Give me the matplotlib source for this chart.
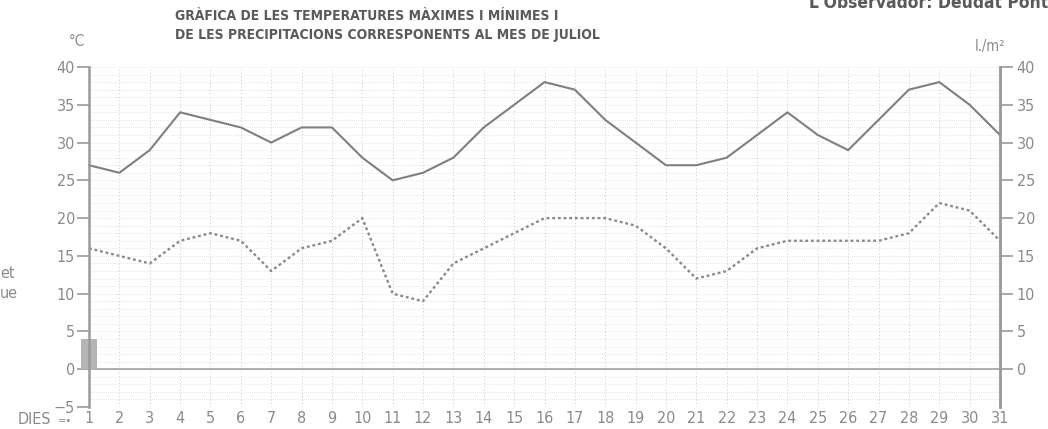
import matplotlib
matplotlib.use("Agg")
import matplotlib.pyplot as plt
from matplotlib import font_manager as fm
import numpy as np

days = list(range(1, 32))
t_max = [27, 26, 29, 34, 33, 32, 30, 32, 32, 28, 25, 26, 28, 32, 35, 38, 37, 33, 30, 27,
         27, 28, 31, 34, 31, 29, 33, 37, 38, 35, 31]
t_min = [16, 15, 14, 17, 18, 17, 13, 16, 17, 20, 10, 9, 14, 16, 18, 20, 20, 20, 19, 16,
         12, 13, 16, 17, 17, 17, 17, 18, 22, 21, 17]
precip_days = [1]
precip_vals = [4]
left_ticks = [-5, 0, 5, 10, 15, 20, 25, 30, 35, 40]
right_ticks = [0, 5, 10, 15, 20, 25, 30, 35, 40]

plt.rcParams['font.family'] = ['DejaVu Sans']
plt.rcParams['font.stretch'] = 'condensed'
print([ (f.name, f.stretch, f.weight) for f in fm.fontManager.ttflist if 'DejaVu Sans' == f.name])

W, H = 1048, 429
fig = plt.figure(figsize=(W / 100, H / 100), dpi=100)
L, R, T, B = 89, 1000, 67, 407
ax = fig.add_axes([L / W, 1 - B / H, (R - L) / W, (B - T) / H])
ax.set_xlim(1, 31)
ax.set_ylim(-5, 40)

gray = "#8a8a8a"
ax.set_facecolor("white")
for y in range(-5, 41):
    ax.axhline(y, color="#dedede", lw=0.6, ls=(0, (1, 1.5)), zorder=0)
for d in days:
    ax.axvline(d, color="#c8c8c8", lw=0.7, ls=(0, (1, 2.5)), zorder=0)
ax.axhline(0, color="#a8a8a8", lw=1.3, zorder=1)

ax.bar(precip_days, precip_vals, width=0.5, color="#b5b5b5", zorder=2, clip_on=False)
ax.plot(days, t_max, color="#7f7f7f", lw=1.5, zorder=3, clip_on=False)
ax.plot(days, t_min, color="#8a8a8a", lw=1.7, ls=(0, (1.2, 1.2)), zorder=3, clip_on=False)

for s in ["top", "bottom"]:
    ax.spines[s].set_visible(False)
for s in ["left", "right"]:
    ax.spines[s].set_color("#9a9a9a")
    ax.spines[s].set_linewidth(1.8)
    ax.spines[s].set_zorder(4)

ax.set_yticks(left_ticks)
ax.set_yticklabels(["\u22125" if v < 0 else str(v) for v in left_ticks])
ax.tick_params(axis="y", direction="out", length=9, width=1.2, color="#9a9a9a",
               labelcolor=gray, labelsize=11.5, pad=1)
ax.set_xticks(days)
ax.tick_params(axis="x", length=0, labelcolor=gray, labelsize=11.5, pad=3)

ax2 = ax.twinx()
ax2.set_ylim(-5, 40)
ax2.set_yticks(right_ticks)
for s in ["top", "bottom", "left"]:
    ax2.spines[s].set_visible(False)
ax2.spines["right"].set_color("#9a9a9a")
ax2.spines["right"].set_linewidth(1.8)
ax2.tick_params(axis="y", direction="out", length=9, width=1.2, color="#9a9a9a",
                labelcolor=gray, labelsize=11.5, pad=3)

def ftext(x, y, s, **kw):
    fig.text(x / W, 1 - y / H, s, **kw)

tc = "#5a5a5a"
ftext(175, 16, "GRÀFICA DE LES TEMPERATURES MÀXIMES I MÍNIMES I", fontsize=10,
      fontweight="bold", color=tc, va="center", ha="left")
ftext(175, 35, "DE LES PRECIPITACIONS CORRESPONENTS AL MES DE JULIOL", fontsize=10,
      fontweight="bold", color=tc, va="center", ha="left")
ftext(1048, 3, "L'Observador: Deudat Pont", fontsize=12.5, fontweight="bold",
      color=tc, va="center", ha="right")
ftext(69, 41, "°C", fontsize=11, color=gray, va="center", ha="left")
ftext(1005, 47, "l./m²", fontsize=10.5, color=gray, va="center", ha="right")
ftext(0, 273, "et", fontsize=11.5, color=gray, va="center", ha="left")
ftext(0, 293, "ue", fontsize=11.5, color=gray, va="center", ha="left")
ftext(18, 420, "DIES", fontsize=11.5, color=gray, va="center", ha="left")
ftext(58, 421, "=•", fontsize=8, color=gray, va="center", ha="left")

fig.savefig("out.png", dpi=100)
